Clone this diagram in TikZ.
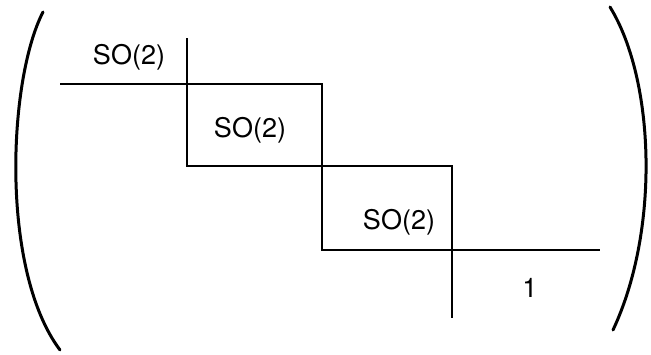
\documentclass[tikz,border=0pt]{standalone}
\usepackage{fontspec}
\setmainfont{TeX Gyre Heros}
\usetikzlibrary{positioning}

\begin{document}
\begin{tikzpicture}[x=1pt,y=-1pt,
  rule/.style={line width=1.4pt},
  paren/.style={line width=3pt,line cap=round},
  blocklbl/.style={font=\fontsize{27}{32}\selectfont,inner sep=0pt}]
\useasboundingbox (0,0) rectangle (651,354);
% large brackets
\draw[paren] (43,12) .. controls (8,80) and (0,270) .. (60,350);
\draw[paren] (610,7) .. controls (655,80) and (660,230) .. (613,330);
% block staircase
\coordinate (c1) at (187,84);
\coordinate (c2) at (322,84);
\coordinate (c3) at (187,166);
\coordinate (c4) at (452,166);
\coordinate (c5) at (322,250);
\coordinate (c6) at (452,250);
\draw[rule] (60,84) -- (c1) -- (c2) -- (c5) -- (600,250);
\draw[rule] (187,38) -- (c1) -- (c3) -- (c4) -- (c6) -- (452,318);
\node[blocklbl] (so1) at (129,57) {SO(2)};
\node[blocklbl] (so2) at (250,130) {SO(2)};
\node[blocklbl] (so3) at (399,222) {SO(2)};
\node[blocklbl] (one) at (530,288) {1};
\end{tikzpicture}
\end{document}
